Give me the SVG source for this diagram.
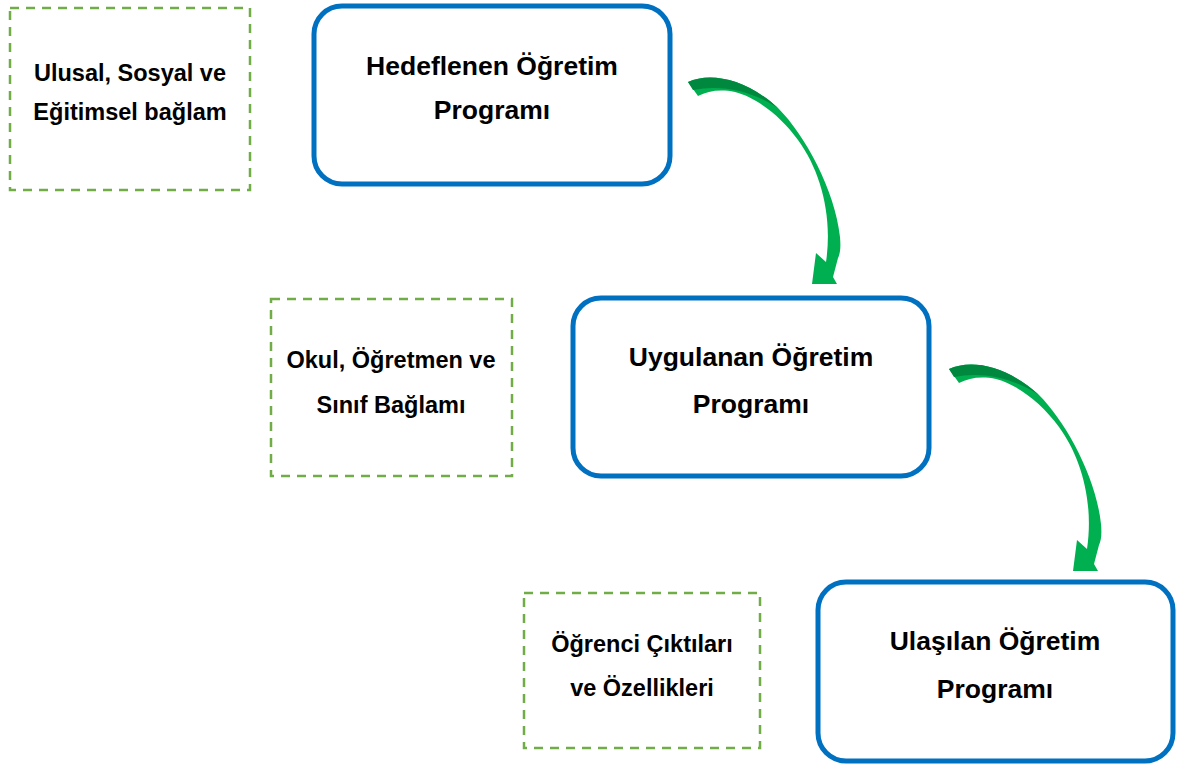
<svg xmlns="http://www.w3.org/2000/svg" xmlns:xlink="http://www.w3.org/1999/xlink" width="1179" height="767" viewBox="0 0 1179 767">
<style>
.ctx{fill:#fff;stroke:#70ad47;stroke-width:2.5;stroke-dasharray:9 7}
.prog{fill:#fff;stroke:#0070c0;stroke-width:5}
.t{font-family:"Liberation Sans",Arial,sans-serif;font-weight:bold;fill:#000;text-anchor:middle}
.tb{font-size:26.5px}
.ts{font-size:23.5px}
.arr{fill:#00b050}
.arrd{fill:#00893e}
</style>
<defs>
<g id="curvedArrow">
<path class="arr" d="M688,82 C710,72 745,78 778,108 C805,135 835,190 840,237 C841,248 840,254 838,258 L833,277 L837,284 L812,284 L816,253 L826,262 C833,215 820,170 798,140 C780,115 755,97 735,92 C720,89 708,91 698,96 Z"/>
<path class="arrd" d="M688,82 C710,72 745,78 778,108 C752,91 722,84 693,90 Z"/>
</g>
</defs>
<g id="connectors">
<use xlink:href="#curvedArrow"/>
<use xlink:href="#curvedArrow" transform="translate(261,287)"/>
</g>
<g id="ctx1">
<rect class="ctx" x="10" y="8" width="240" height="182"/>
<text class="t ts" x="130" y="81">Ulusal, Sosyal ve</text>
<text class="t ts" x="130" y="120">Eğitimsel bağlam</text>
</g>
<g id="ctx2">
<rect class="ctx" x="271" y="299" width="241" height="177"/>
<text class="t ts" x="391" y="368">Okul, Öğretmen ve</text>
<text class="t ts" x="391" y="413">Sınıf Bağlamı</text>
</g>
<g id="ctx3">
<rect class="ctx" x="524" y="593" width="236" height="155"/>
<text class="t ts" x="642" y="652">Öğrenci Çıktıları</text>
<text class="t ts" x="642" y="696">ve Özellikleri</text>
</g>
<g id="prog1">
<rect class="prog" x="314" y="6" width="356" height="178" rx="28"/>
<text class="t tb" x="492" y="75">Hedeflenen Öğretim</text>
<text class="t tb" x="492" y="119">Programı</text>
</g>
<g id="prog2">
<rect class="prog" x="573" y="298" width="356" height="178" rx="28"/>
<text class="t tb" x="751" y="366">Uygulanan Öğretim</text>
<text class="t tb" x="751" y="413">Programı</text>
</g>
<g id="prog3">
<rect class="prog" x="818" y="582" width="355" height="179" rx="28"/>
<text class="t tb" x="995" y="650">Ulaşılan Öğretim</text>
<text class="t tb" x="995" y="698">Programı</text>
</g>
</svg>
